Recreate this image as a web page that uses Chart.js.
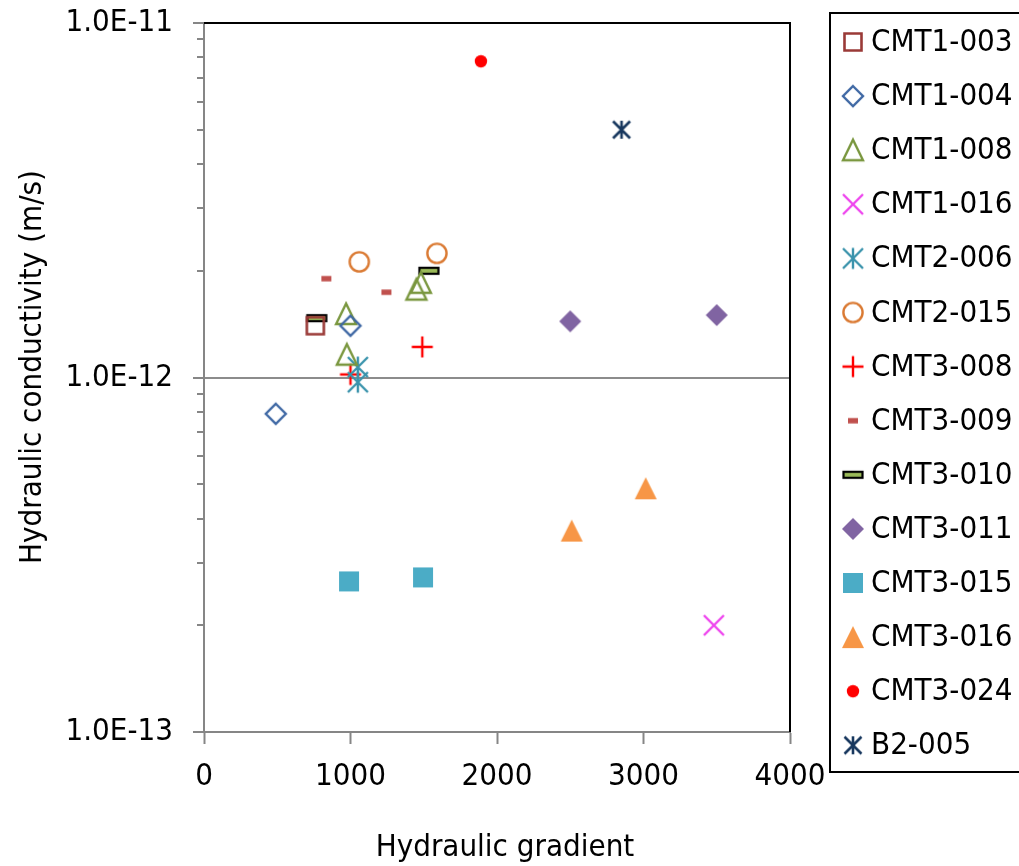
<!DOCTYPE html>
<html>
<head>
<meta charset="utf-8">
<script src="https://cdn.jsdelivr.net/npm/chart.js@4/dist/chart.umd.min.js"></script>
<style>
  html, body { margin: 0; padding: 0; background: #ffffff; }
  #wrap { width: 1019px; height: 866px; }
</style>
</head>
<body>
<div id="wrap"><canvas id="chart" width="1019" height="866"></canvas></div>
<script>
// Hydraulic gradient (x) vs hydraulic conductivity in m/s (y), per borehole interval
const CMT1_003 = [{ x: 760, y: 1.40e-12 }];
const CMT1_004 = [{ x: 490, y: 7.9e-13 }, { x: 1000, y: 1.40e-12 }];
const CMT1_008 = [{ x: 970, y: 1.51e-12 }, { x: 975, y: 1.16e-12 }, { x: 1450, y: 1.77e-12 }, { x: 1480, y: 1.85e-12 }];
const CMT1_016 = [{ x: 3480, y: 2.0e-13 }];
const CMT2_006 = [{ x: 1050, y: 1.07e-12 }, { x: 1050, y: 9.7e-13 }];
const CMT2_015 = [{ x: 1060, y: 2.12e-12 }, { x: 1590, y: 2.24e-12 }];
const CMT3_008 = [{ x: 1000, y: 1.02e-12 }, { x: 1490, y: 1.22e-12 }];
const CMT3_009 = [{ x: 835, y: 1.90e-12 }, { x: 1245, y: 1.74e-12 }];
const CMT3_010 = [{ x: 770, y: 1.47e-12 }, { x: 1535, y: 2.0e-12 }];
const CMT3_011 = [{ x: 2500, y: 1.44e-12 }, { x: 3500, y: 1.50e-12 }];
const CMT3_015 = [{ x: 990, y: 2.66e-13 }, { x: 1495, y: 2.73e-13 }];
const CMT3_016 = [{ x: 2510, y: 3.70e-13 }, { x: 3015, y: 4.87e-13 }];
const CMT3_024 = [{ x: 1890, y: 7.8e-12 }];
const B2_005 = [{ x: 2850, y: 5.0e-12 }];

const seriesLabels = ['CMT1-003', 'CMT1-004', 'CMT1-008', 'CMT1-016', 'CMT2-006', 'CMT2-015', 'CMT3-008',
  'CMT3-009', 'CMT3-010', 'CMT3-011', 'CMT3-015', 'CMT3-016', 'CMT3-024', 'B2-005'];
const seriesData = [CMT1_003, CMT1_004, CMT1_008, CMT1_016, CMT2_006, CMT2_015, CMT3_008,
  CMT3_009, CMT3_010, CMT3_011, CMT3_015, CMT3_016, CMT3_024, B2_005];

const xTickValues = [0, 1000, 2000, 3000, 4000];
const yDecades = [1e-13, 1e-12, 1e-11];

const FONT = "'DejaVu Sans Condensed', 'DejaVu Sans', sans-serif";
const FONT_SIZE = 31;

// ---- marker glyphs drawn onto small canvases, used as point styles ----
function glyph(draw) {
  const S = 32;
  const cv = document.createElement('canvas');
  cv.width = S; cv.height = S;
  const g = cv.getContext('2d');
  g.translate(S / 2, S / 2);
  draw(g);
  return cv;
}
function strokeWith(g, color, w) { g.strokeStyle = color; g.lineWidth = w; g.stroke(); }

const markers = [
  // hollow square
  glyph(g => { g.beginPath(); g.rect(-8.5, -8.5, 17, 17); strokeWith(g, '#9A3A37', 2.6); }),
  // hollow diamond
  glyph(g => { g.beginPath(); g.moveTo(0, -10); g.lineTo(10, 0); g.lineTo(0, 10); g.lineTo(-10, 0); g.closePath(); strokeWith(g, '#3F68A4', 2.4); }),
  // hollow triangle
  glyph(g => { g.beginPath(); g.moveTo(0, -10.5); g.lineTo(10, 10); g.lineTo(-10, 10); g.closePath(); strokeWith(g, '#7A973F', 2.4); }),
  // x
  glyph(g => { g.beginPath(); g.moveTo(-10, -10); g.lineTo(10, 10); g.moveTo(10, -10); g.lineTo(-10, 10); strokeWith(g, '#EE45EE', 2.4); }),
  // asterisk
  glyph(g => { g.beginPath(); g.moveTo(0, -10.5); g.lineTo(0, 10.5); g.moveTo(-10, -10); g.lineTo(10, 10); g.moveTo(10, -10); g.lineTo(-10, 10); strokeWith(g, '#3A93AC', 2.4); }),
  // hollow circle
  glyph(g => { g.beginPath(); g.arc(0, 0, 9.6, 0, Math.PI * 2); strokeWith(g, '#DA7A33', 2.4); }),
  // plus
  glyph(g => { g.beginPath(); g.moveTo(0, -10.5); g.lineTo(0, 10.5); g.moveTo(-10.5, 0); g.lineTo(10.5, 0); strokeWith(g, '#FF0000', 2.4); }),
  // short filled dash
  glyph(g => { g.fillStyle = '#C0504D'; g.fillRect(-5, -2.7, 10, 5.4); }),
  // green bar with black outline
  glyph(g => { g.fillStyle = '#9BBB59'; g.fillRect(-9.5, -3, 19, 6); g.strokeStyle = '#000000'; g.lineWidth = 2.2; g.strokeRect(-9.5, -3, 19, 6); }),
  // filled diamond
  glyph(g => { g.beginPath(); g.moveTo(0, -11); g.lineTo(11, 0); g.lineTo(0, 11); g.lineTo(-11, 0); g.closePath(); g.fillStyle = '#8064A2'; g.fill(); }),
  // filled square
  glyph(g => { g.fillStyle = '#4BACC6'; g.fillRect(-10, -10, 20, 20); }),
  // filled triangle
  glyph(g => { g.beginPath(); g.moveTo(0, -11); g.lineTo(11, 11); g.lineTo(-11, 11); g.closePath(); g.fillStyle = '#F79646'; g.fill(); }),
  // filled circle
  glyph(g => { g.beginPath(); g.arc(0, 0, 6.2, 0, Math.PI * 2); g.fillStyle = '#FF0000'; g.fill(); }),
  // small asterisk
  glyph(g => { g.beginPath(); g.moveTo(0, -9); g.lineTo(0, 9); g.moveTo(-8.5, -8.5); g.lineTo(8.5, 8.5); g.moveTo(8.5, -8.5); g.lineTo(-8.5, 8.5); strokeWith(g, '#17375E', 2.6); })
];

const datasets = seriesLabels.map((label, i) => ({
  label,
  data: seriesData[i],
  pointStyle: markers[i],
  pointRadius: 10,
  showLine: false
}));

// plot frame, axis titles and the boxed legend
const decorations = {
  id: 'decorations',
  beforeDatasetsDraw(chart) {
    const { ctx, chartArea: a } = chart;
    ctx.save();
    ctx.strokeStyle = '#000000';
    ctx.lineWidth = 2;
    ctx.beginPath();
    ctx.moveTo(a.left, a.top);
    ctx.lineTo(a.right, a.top);
    ctx.lineTo(a.right, a.bottom);
    ctx.stroke();
    ctx.restore();
  },
  afterDraw(chart) {
    const { ctx } = chart;
    ctx.save();
    ctx.fillStyle = '#000000';
    ctx.font = FONT_SIZE + 'px ' + FONT;
    ctx.textAlign = 'center';
    ctx.textBaseline = 'alphabetic';
    ctx.fillText('Hydraulic gradient', 505, 856);
    ctx.translate(41, 367);
    ctx.rotate(-Math.PI / 2);
    ctx.fillText('Hydraulic conductivity (m/s)', 0, 0);
    ctx.restore();

    // legend
    ctx.save();
    ctx.strokeStyle = '#000000';
    ctx.lineWidth = 2;
    ctx.strokeRect(830, 13, 220, 759);
    ctx.font = FONT_SIZE + 'px ' + FONT;
    ctx.fillStyle = '#000000';
    ctx.textAlign = 'left';
    ctx.textBaseline = 'middle';
    chart.data.datasets.forEach((ds, i) => {
      const cy = 42 + i * 54.1;
      const img = ds.pointStyle;
      ctx.drawImage(img, 853 - img.width / 2, cy - img.height / 2);
      ctx.fillText(ds.label, 871, cy + 1);
    });
    ctx.restore();
  }
};

const AXIS_GRAY = '#868686';

new Chart(document.getElementById('chart'), {
  type: 'scatter',
  data: { datasets },
  options: {
    responsive: false,
    animation: false,
    events: [],
    layout: { padding: { left: 0, top: 23, right: 229, bottom: 0 } },
    plugins: { legend: { display: false }, tooltip: { enabled: false } },
    scales: {
      x: {
        type: 'linear',
        min: 0, max: 4000,
        afterFit: s => { s.height = 134; s.paddingLeft = 0; s.paddingRight = 0; },
        afterBuildTicks: s => { s.ticks = xTickValues.map(v => ({ value: v })); },
        grid: {
          drawOnChartArea: false,
          tickLength: 12,
          tickColor: AXIS_GRAY,
          tickWidth: 2
        },
        border: { color: AXIS_GRAY, width: 2 },
        ticks: {
          color: '#000000',
          padding: 14,
          maxRotation: 0,
          font: { family: FONT, size: FONT_SIZE },
          callback: v => String(v)
        }
      },
      y: {
        type: 'logarithmic',
        min: 1e-13, max: 1e-11,
        afterFit: s => { s.width = 204; s.paddingTop = 0; s.paddingBottom = 0; },
        afterBuildTicks: s => {
          const t = [];
          yDecades.forEach((d, k) => {
            if (k === yDecades.length - 1) { t.push({ value: d }); return; }
            for (let m = 1; m <= 9; m++) t.push({ value: m * d });
          });
          s.ticks = t;
        },
        grid: {
          color: ctx => (ctx.tick && Math.abs(Math.log10(ctx.tick.value) + 12) < 1e-6 ? '#8C8C8C' : 'rgba(0,0,0,0)'),
          lineWidth: 2,
          tickLength: 11,
          tickColor: AXIS_GRAY,
          tickWidth: 2,
          tickBorderDash: ctx => {
            if (!ctx.tick) return [];
            const e = Math.log10(ctx.tick.value);
            return Math.abs(e - Math.round(e)) < 1e-6 ? [] : [0, 4, 7, 0];
          }
        },
        border: { color: AXIS_GRAY, width: 2 },
        ticks: {
          color: '#000000',
          padding: 20,
          autoSkip: false,
          font: { family: FONT, size: FONT_SIZE },
          callback: v => {
            const e = Math.log10(v);
            if (Math.abs(e - Math.round(e)) > 1e-6) return '';
            return '1.0E' + (Math.round(e) < 0 ? '-' : '+') + String(Math.abs(Math.round(e))).padStart(2, '0');
          }
        }
      }
    }
  },
  plugins: [decorations]
});
</script>
</body>
</html>
